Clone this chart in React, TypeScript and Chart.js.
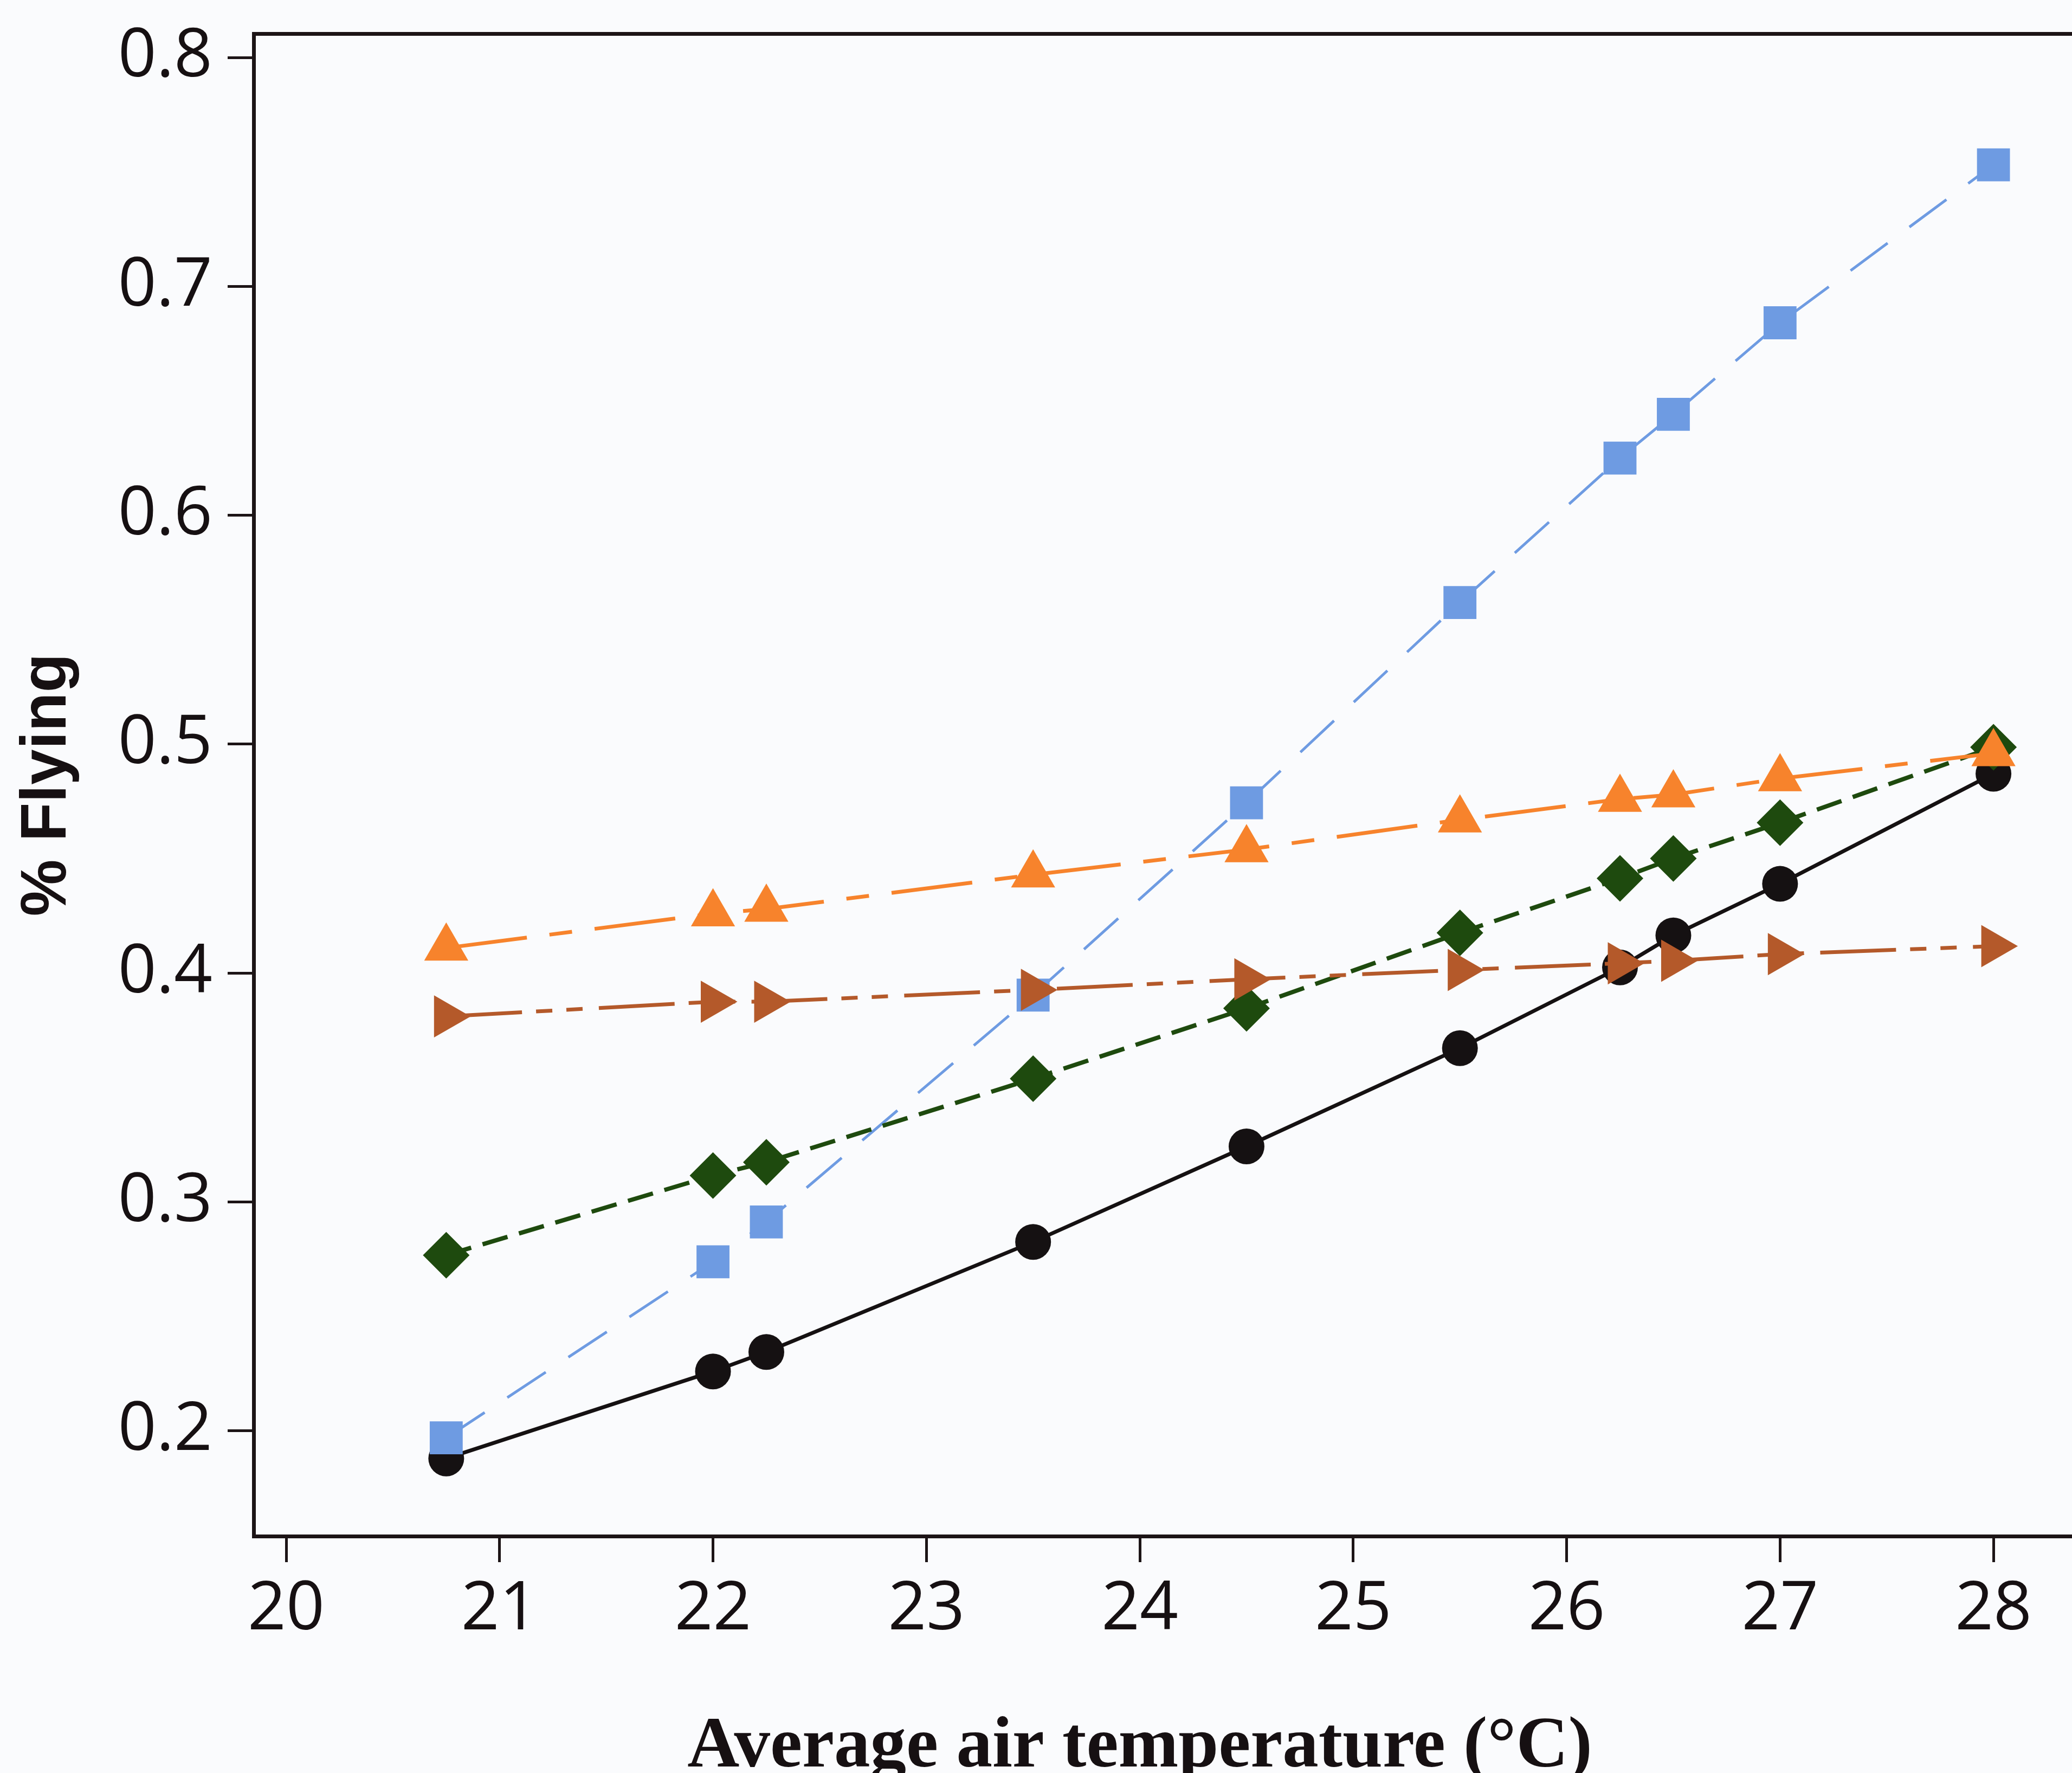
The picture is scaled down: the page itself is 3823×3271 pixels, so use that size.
import React, { useEffect, useRef } from 'react';
import { Chart, registerables } from 'chart.js';

Chart.register(...registerables);

// ---- Data ----
const TEMPERATURES = [20.75, 22.0, 22.25, 23.5, 24.5, 25.5, 26.25, 26.5, 27.0, 28.0];
const BLACK_CIRCLES = [0.188, 0.226, 0.2345, 0.2826, 0.3243, 0.3672, 0.4025, 0.4165, 0.439, 0.4871];
const BLUE_SQUARES = [0.197, 0.2739, 0.2913, 0.3904, 0.4744, 0.5619, 0.625, 0.6441, 0.6841, 0.7531];
const ORANGE_TRIANGLES = [0.411, 0.426, 0.428, 0.443, 0.454, 0.467, 0.476, 0.478, 0.485, 0.496];
const BROWN_TRIANGLES = [0.3811, 0.3875, 0.3875, 0.3927, 0.3973, 0.4014, 0.4043, 0.4054, 0.4083, 0.4118];
const GREEN_DIAMONDS = [0.2768, 0.3116, 0.3174, 0.3539, 0.3846, 0.4176, 0.4414, 0.4501, 0.4657, 0.4987];

const X_TICKS = [20, 21, 22, 23, 24, 25, 26, 27, 28];
const X_TICK_LABELS = ['20', '21', '22', '23', '24', '25', '26', '27', '28'];
const Y_TICKS = [0.2, 0.3, 0.4, 0.5, 0.6, 0.7, 0.8];
const Y_TICK_LABELS = ['0.2', '0.3', '0.4', '0.5', '0.6', '0.7', '0.8'];

const X_TITLE = 'Average air temperature (\u00B0C)';
const Y_TITLE = '% Flying';

// ---- Styling / layout ----
const W = 3823;
const H = 3271;
const X_MIN = 19.8476;
const X_MAX = 28.368;
const Y_MIN = 0.15406;
const Y_MAX = 0.81042;
const AXIS_COLOR = '#1c1416';
const TEXT_COLOR = '#161012';
const TICK_FONT = { family: '"Open Sans", "Noto Sans", sans-serif', size: 124 };

const toPoints = (ys: number[]) => TEMPERATURES.map((x, i) => ({ x, y: ys[i] }));

const xTitlePlugin = {
  id: 'xTitlePlugin',
  afterDraw(chart: any) {
    const ctx = chart.ctx;
    const xs = chart.scales.x;
    const cx = (xs.getPixelForValue(X_TICKS[0]) + xs.getPixelForValue(X_TICKS[X_TICKS.length - 1])) / 2;
    ctx.save();
    ctx.font = 'bold 133px "Liberation Serif", "Times New Roman", serif';
    ctx.fillStyle = TEXT_COLOR;
    ctx.textAlign = 'center';
    ctx.textBaseline = 'alphabetic';
    ctx.fillText(X_TITLE, cx, chart.height - 12);
    ctx.restore();
  },
};

const noPadding = (s: any) => {
  s.paddingLeft = 0;
  s.paddingRight = 0;
  s.paddingTop = 0;
  s.paddingBottom = 0;
};

export default function App() {
  const canvasRef = useRef<HTMLCanvasElement | null>(null);

  useEffect(() => {
    const canvas = canvasRef.current;
    if (!canvas) return;
    const chart = new Chart(canvas, {
      type: 'scatter',
      data: {
        datasets: [
          {
            label: 'Orange',
            data: toPoints(ORANGE_TRIANGLES),
            showLine: true,
            borderColor: '#f7832c',
            backgroundColor: '#f7832c',
            borderWidth: 7,
            borderDash: [150, 42, 42, 42],
            pointStyle: 'triangle',
            pointRadius: 47,
            pointBorderWidth: 0,
            order: 0,
          },
          {
            label: 'Brown',
            data: toPoints(BROWN_TRIANGLES),
            showLine: true,
            borderColor: '#b4592a',
            backgroundColor: '#b4592a',
            borderWidth: 7,
            borderDash: [140, 26, 30, 26, 30, 30],
            pointStyle: 'triangle',
            rotation: 90,
            pointRotation: 90,
            pointRadius: 45,
            pointBorderWidth: 0,
            order: 1,
          },
          {
            label: 'Green',
            data: toPoints(GREEN_DIAMONDS),
            showLine: true,
            borderColor: '#1e4a0e',
            backgroundColor: '#1e4a0e',
            borderWidth: 8,
            borderDash: [48, 22],
            pointStyle: 'rectRot',
            pointRadius: 43,
            pointBorderWidth: 0,
            order: 2,
          },
          {
            label: 'Blue',
            data: toPoints(BLUE_SQUARES),
            showLine: true,
            borderColor: '#6e9be2',
            backgroundColor: '#6e9be2',
            borderWidth: 5,
            borderDash: [85, 50],
            pointStyle: 'rect',
            pointRadius: 43,
            pointBorderWidth: 0,
            order: 3,
          },
          {
            label: 'Black',
            data: toPoints(BLACK_CIRCLES),
            showLine: true,
            borderColor: '#151112',
            backgroundColor: '#151112',
            borderWidth: 7,
            pointStyle: 'circle',
            pointRadius: 33,
            pointBorderWidth: 0,
            order: 4,
          },
        ],
      },
      options: {
        responsive: false,
        animation: false,
        devicePixelRatio: 1,
        layout: { autoPadding: false, padding: { top: 62, left: 0, right: 0, bottom: 0 } },
        plugins: {
          legend: { display: false },
          tooltip: { enabled: false },
        },
        elements: {
          line: { tension: 0, borderCapStyle: 'butt', fill: false },
        },
        scales: {
          x: {
            type: 'linear',
            position: 'bottom',
            min: X_MIN,
            max: X_MAX,
            afterBuildTicks: (s: any) => {
              s.ticks = X_TICKS.map((v) => ({ value: v }));
            },
            afterFit: (s: any) => {
              s.height = 437;
              noPadding(s);
            },
            ticks: {
              callback: (v: any) => X_TICK_LABELS[X_TICKS.indexOf(Number(v))],
              font: TICK_FONT,
              color: TEXT_COLOR,
              padding: 14,
              maxRotation: 0,
              autoSkip: false,
            },
            grid: {
              display: true,
              drawOnChartArea: false,
              drawTicks: true,
              tickLength: 48,
              tickWidth: 5,
              tickColor: AXIS_COLOR,
            },
            border: { display: true, width: 7, color: AXIS_COLOR },
          },
          xTop: {
            type: 'linear',
            axis: 'x',
            position: 'top',
            min: X_MIN,
            max: X_MAX,
            afterFit: (s: any) => {
              s.height = 0;
              noPadding(s);
            },
            ticks: { display: false },
            grid: { display: false, drawTicks: false },
            border: { display: true, width: 7, color: AXIS_COLOR },
          },
          y: {
            type: 'linear',
            position: 'left',
            min: Y_MIN,
            max: Y_MAX,
            afterBuildTicks: (s: any) => {
              s.ticks = Y_TICKS.map((v) => ({ value: v }));
            },
            afterFit: (s: any) => {
              s.width = 468;
              noPadding(s);
            },
            ticks: {
              callback: (v: any) => Y_TICK_LABELS[Y_TICKS.findIndex((t) => Math.abs(t - Number(v)) < 1e-9)],
              font: TICK_FONT,
              color: TEXT_COLOR,
              padding: 28,
            },
            grid: {
              display: true,
              drawOnChartArea: false,
              drawTicks: true,
              tickLength: 48,
              tickWidth: 5,
              tickColor: AXIS_COLOR,
            },
            border: { display: true, width: 7, color: AXIS_COLOR },
            title: {
              display: true,
              text: Y_TITLE,
              color: TEXT_COLOR,
              font: { family: '"Liberation Sans", Arial, sans-serif', weight: 'bold', size: 118 },
              padding: { top: 18, bottom: 0 },
            },
          },
        },
      },
      plugins: [xTitlePlugin],
    } as any);
    return () => {
      chart.destroy();
    };
  }, []);

  return (
    <div
      style={{
        position: 'fixed',
        left: 0,
        top: 0,
        width: W,
        height: H,
        background: '#fafbfd',
        overflow: 'hidden',
      }}
    >
      <canvas ref={canvasRef} width={W} height={H} style={{ display: 'block', width: W, height: H }} />
    </div>
  );
}
